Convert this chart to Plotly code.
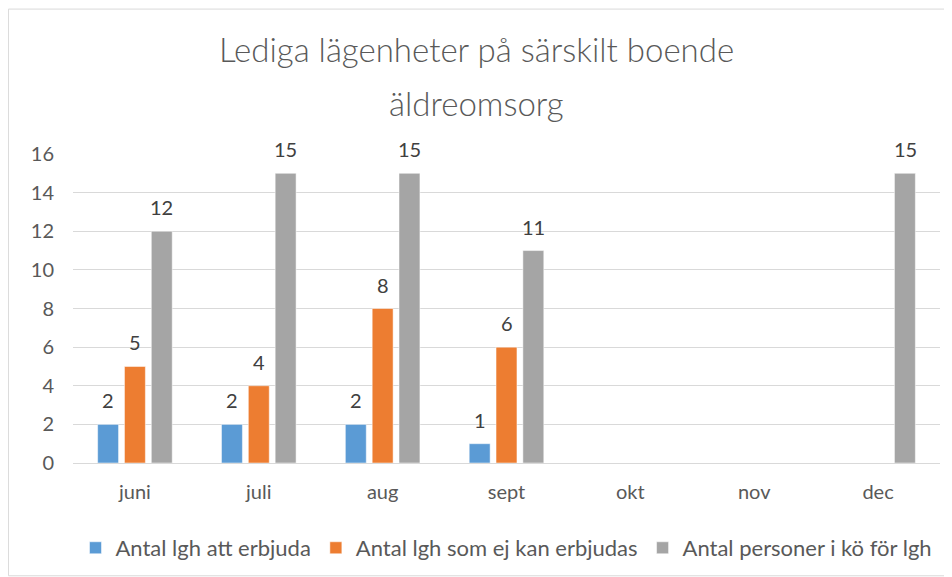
import plotly.graph_objects as go

months = ["juni", "juli", "aug", "sept", "okt", "nov", "dec"]
series_names = ["Antal lgh att erbjuda", "Antal lgh som ej kan erbjudas", "Antal personer i kö för lgh"]
erbjuda = [2, 2, 2, 1, None, None, None]
ej_erbjudas = [5, 4, 8, 6, None, None, None]
personer_ko = [12, 15, 15, 11, None, None, 15]
colors = ["#5B9BD5", "#ED7D31", "#A5A5A5"]
y_ticks = [0, 2, 4, 6, 8, 10, 12, 14, 16]
title_lines = ["Lediga lägenheter på särskilt boende", "äldreomsorg"]

FONT = "Lato"
all_series = [erbjuda, ej_erbjudas, personer_ko]

fig = go.Figure()
for name, vals, col in zip(series_names, all_series, colors):
    fig.add_trace(go.Bar(
        x=months, y=vals, name=name,
        marker=dict(color=col, line=dict(color="rgba(255,255,255,0.5)", width=1)),
        hoverinfo="skip",
    ))

annotations = []
shifts = [-27, 0, 27]
for vals, sh in zip(all_series, shifts):
    for m, v in zip(months, vals):
        if v is None:
            continue
        annotations.append(dict(
            x=m, y=v, xref="x", yref="y", text=str(v), showarrow=False,
            xshift=sh, yshift=24, yanchor="middle",
            font=dict(family=FONT, size=20, color="#404040"),
        ))

annotations.append(dict(x=0.465, y=1.341, xref="paper", yref="paper", text=title_lines[0],
                        showarrow=False, yanchor="middle",
                        font=dict(family=FONT, size=33, weight=300, color="#595959")))
annotations.append(dict(x=0.465, y=1.166, xref="paper", yref="paper", text=title_lines[1],
                        showarrow=False, yanchor="middle",
                        font=dict(family=FONT, size=33, weight=300, color="#595959")))

fig.update_layout(
    width=944, height=569,
    margin=dict(l=65, r=12, t=146, b=114, autoexpand=False),
    paper_bgcolor="white", plot_bgcolor="white",
    barmode="group", bargap=0.35, bargroupgap=0.22,
    showlegend=True,
    legend=dict(orientation="h", x=0.5, xanchor="center", y=-0.275, yanchor="middle",
                font=dict(family=FONT, size=22, color="#595959"),
                itemwidth=30, tracegroupgap=0),
    annotations=annotations,
    shapes=[dict(type="rect", xref="paper", yref="paper",
                 x0=-0.0745, x1=1.012, y0=-0.365, y1=1.469,
                 line=dict(color="#D9D9D9", width=1), fillcolor="rgba(0,0,0,0)", layer="below")],
)
fig.update_xaxes(showgrid=False, showline=True, linecolor="#D9D9D9", linewidth=1,
                 ticks="", tickfont=dict(family=FONT, size=20, color="#595959"),
                 ticklabelstandoff=11, automargin=False)
fig.update_yaxes(range=[0, 16], tickvals=y_ticks, showgrid=True, gridcolor="#D9D9D9", gridwidth=1,
                 zeroline=False, showline=False, ticks="",
                 tickfont=dict(family=FONT, size=20, color="#595959"),
                 ticklabelstandoff=18, automargin=False)

fig.write_html("out.html")
